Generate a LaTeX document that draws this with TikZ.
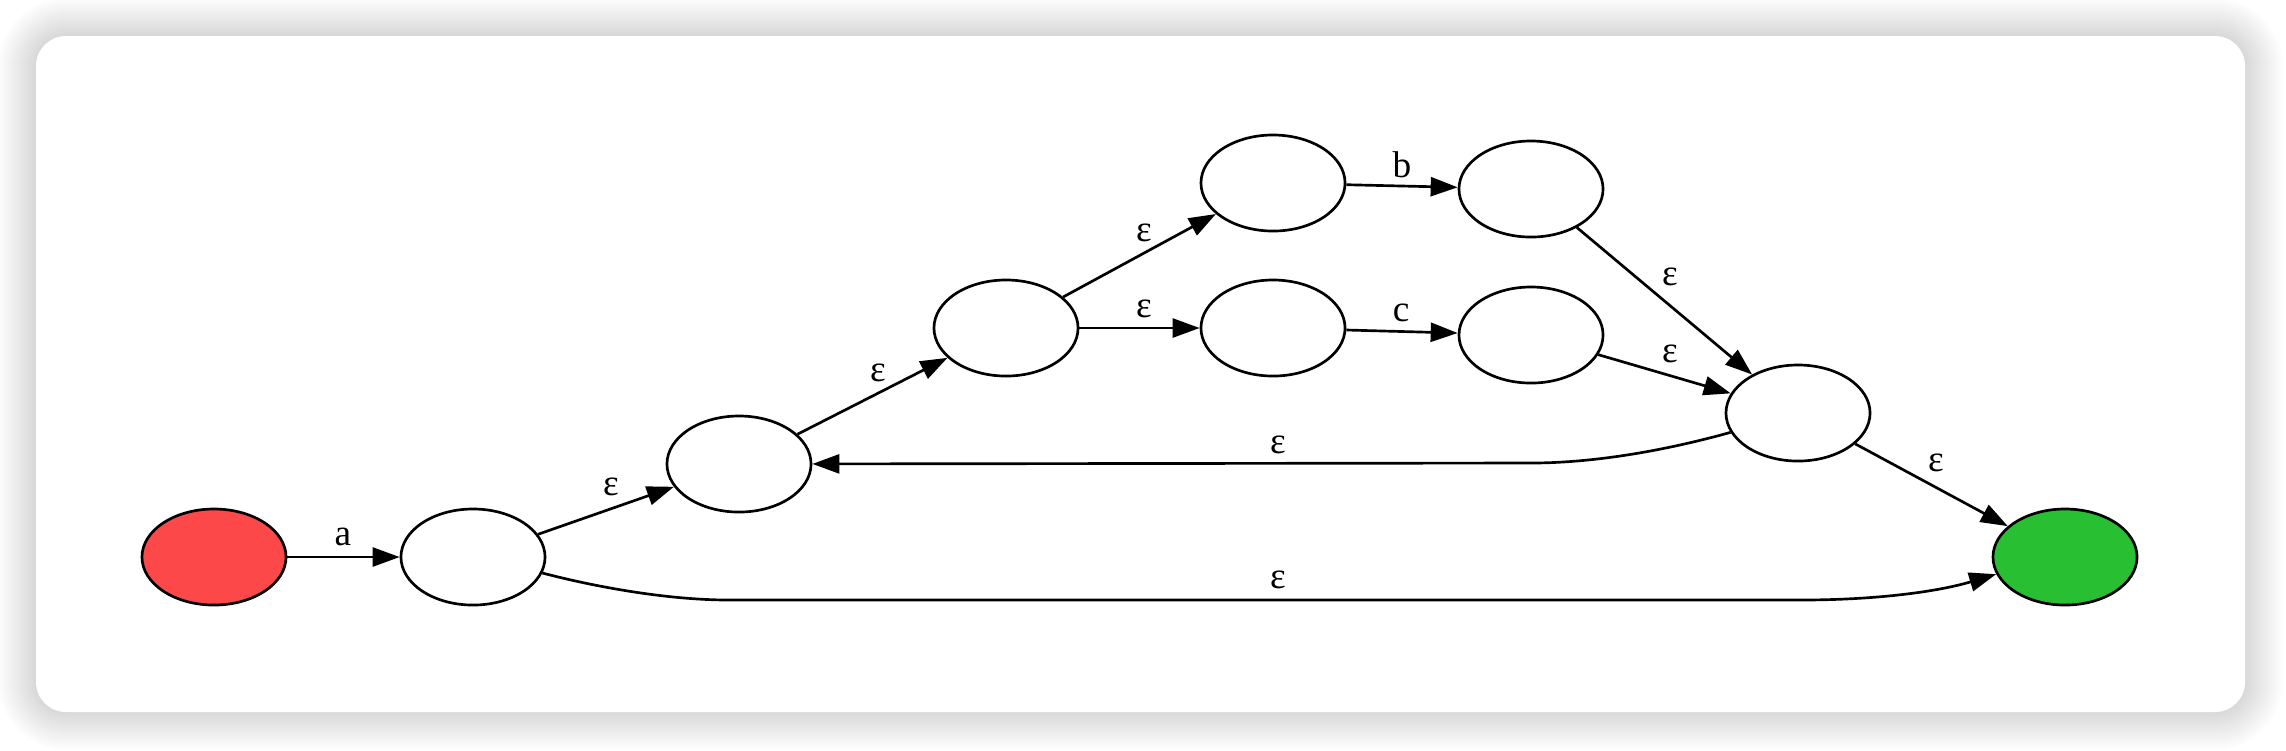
\documentclass[tikz,border=0pt]{standalone}
\usepackage{fontspec}
\setmainfont{Liberation Serif}
\usetikzlibrary{arrows.meta,shapes.geometric,positioning}
\definecolor{startred}{HTML}{FC4848}
\definecolor{acceptgreen}{HTML}{29BF33}
\tikzstyle{state} = [ellipse, draw=black, fill=white, line width=0.76pt, minimum width=1.44cm, minimum height=0.96cm, inner sep=0pt]
\tikzstyle{arrow} = [line width=0.76pt, -{Triangle[length=0.27cm, width=0.19cm]}]
\tikzstyle{lab} = [inner sep=0pt, font=\fontsize{10.6}{12}\selectfont]

\begin{document}
\begin{tikzpicture}[x=0.01cm, y=-0.01cm]
\useasboundingbox (0,0) rectangle (2286,750);
\fill[white] (0,0) rectangle (2286,750);
% card with soft shadow
\foreach \k [evaluate=\k as \r using 0.30+0.02*\k] in {1,...,19}
  \fill[black, opacity=0.0085, rounded corners=\r cm] (36-2*\k,36-2*\k) rectangle (2245+2*\k,712+2*\k);
\fill[white, rounded corners=0.30cm] (36,36) rectangle (2245,712);
% states
\draw (214,557) node (q0) [state, fill=startred] {};
\draw (473,557) node (q1) [state] {};
\draw (739,464) node (q2) [state] {};
\draw (1006,328) node (q3) [state] {};
\draw (1273,183) node (q4) [state] {};
\draw (1531,189) node (q5) [state] {};
\draw (1273,328) node (q6) [state] {};
\draw (1531,335) node (q7) [state] {};
\draw (1798,413) node (q8) [state] {};
\draw (2065,557) node (q9) [state, fill=acceptgreen] {};
% transitions
\draw[arrow] (q0)--(q1);
\draw[arrow] (q1)--(q2);
\draw[arrow] (q2)--(q3);
\draw[arrow] (q3)--(q4);
\draw[arrow] (q3)--(q6);
\draw[arrow] (q4)--(q5);
\draw[arrow] (q6)--(q7);
\draw[arrow] (q5)--(q8);
\draw[arrow] (q7)--(q8);
\draw[arrow] (q8)--(q9);
\draw[arrow] (q8.196) .. controls (1660,452) and (1590,463) .. (1531,463) -- (q2);
\draw[arrow] (q1.347) .. controls (600,588) and (670,600) .. (729,600) -- (1800,600) .. controls (1880,600) and (1940,591) .. (q9.194);
% labels
\node[lab] (la) at (343,537) {a};
\node[lab] (le1) at (611,487) {ε};
\node[lab] (le2) at (878,373) {ε};
\node[lab] (le3) at (1144,233) {ε};
\node[lab] (le4) at (1144,309) {ε};
\node[lab] (lb) at (1402,165) {b};
\node[lab] (lc) at (1401,313) {c};
\node[lab] (le5) at (1670,277) {ε};
\node[lab] (le6) at (1670,354) {ε};
\node[lab] (le7) at (1278,445) {ε};
\node[lab] (le8) at (1936,463) {ε};
\node[lab] (le9) at (1278,580) {ε};
\end{tikzpicture}
\end{document}
